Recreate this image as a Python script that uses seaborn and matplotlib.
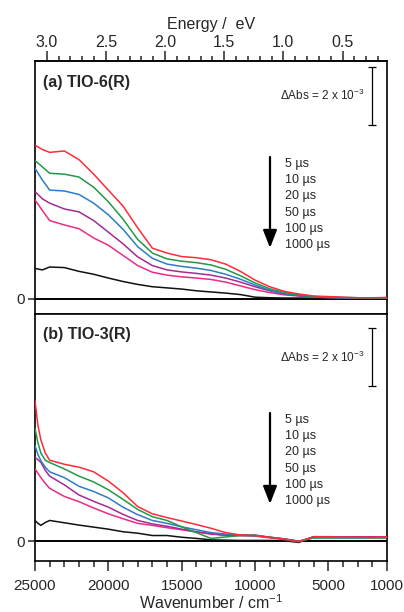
import numpy as np
import pandas as pd
import matplotlib
matplotlib.use("Agg")
import matplotlib.pyplot as plt
from matplotlib.ticker import MultipleLocator, FixedLocator
import seaborn as sns

sns.set_theme(style="ticks")
plt.rcParams["font.family"] = ["Liberation Sans", "DejaVu Sans"]
plt.rcParams["mathtext.fontset"] = "custom"
plt.rcParams["mathtext.rm"] = "Liberation Sans"

# Transient absorption spectra, values in units of 1e-3 ΔAbs
delays = ["5 µs", "10 µs", "20 µs", "50 µs", "100 µs", "1000 µs"]
colors = ["#ff2a3a", "#1f9a45", "#2c7cc6", "#a42a96", "#ea2c82", "#111111"]

wn_a = [25000, 24500, 24000, 23000, 22000, 21000, 20000, 19000, 18000, 17000,
        16000, 15000, 14000, 13000, 12000, 11000, 10000, 9000, 8000, 7000,
        6000, 5000, 4000, 3000, 2000, 1000]
tio6_5us = [5.30, 5.15, 5.05, 5.10, 4.80, 4.30, 3.75, 3.20, 2.45, 1.75, 1.58, 1.46, 1.42,
            1.35, 1.20, 0.95, 0.65, 0.42, 0.26, 0.17, 0.10, 0.08, 0.06, 0.04, 0.04, 0.05]
tio6_10us = [4.77, 4.55, 4.33, 4.30, 4.20, 3.85, 3.35, 2.75, 2.05, 1.58, 1.38, 1.30, 1.25,
             1.17, 1.02, 0.80, 0.55, 0.35, 0.22, 0.14, 0.08, 0.06, 0.05, 0.04, 0.03, 0.04]
tio6_20us = [4.50, 4.10, 3.75, 3.72, 3.60, 3.30, 2.90, 2.40, 1.80, 1.40, 1.20, 1.12, 1.06,
             0.98, 0.85, 0.68, 0.48, 0.30, 0.18, 0.12, 0.07, 0.05, 0.04, 0.03, 0.03, 0.04]
tio6_50us = [3.70, 3.45, 3.30, 3.10, 3.00, 2.70, 2.30, 1.90, 1.45, 1.15, 1.00, 0.93, 0.88,
             0.82, 0.72, 0.58, 0.42, 0.28, 0.17, 0.11, 0.07, 0.05, 0.04, 0.03, 0.03, 0.04]
tio6_100us = [3.41, 3.05, 2.70, 2.55, 2.42, 2.10, 1.85, 1.50, 1.15, 0.92, 0.82, 0.76, 0.72,
              0.67, 0.58, 0.45, 0.32, 0.22, 0.14, 0.10, 0.06, 0.05, 0.04, 0.03, 0.03, 0.04]
tio6_1000us = [1.05, 1.00, 1.10, 1.08, 0.95, 0.85, 0.72, 0.60, 0.50, 0.42, 0.38, 0.34, 0.28,
               0.24, 0.20, 0.15, 0.06, 0.04, 0.03, 0.03, 0.03, 0.03, 0.03, 0.03, 0.03, 0.03]

wn_b = [25000, 24800, 24600, 24300, 24000, 23000, 22000, 21000, 20000, 19000, 18000,
        17000, 16000, 15000, 14000, 13000, 12000, 11000, 10000, 9000, 8000, 7000,
        6000, 5000, 4000, 3000, 2000, 1000]
tio3_5us = [4.86, 4.00, 3.50, 3.05, 2.80, 2.66, 2.56, 2.40, 2.08, 1.68, 1.20, 0.95, 0.82,
            0.70, 0.58, 0.45, 0.30, 0.22, 0.20, 0.14, 0.08, 0.00, 0.15, 0.15, 0.14, 0.14, 0.13, 0.15]
tio3_10us = [3.90, 3.40, 3.05, 2.80, 2.72, 2.50, 2.25, 2.05, 1.78, 1.45, 1.10, 0.85, 0.72,
             0.50, 0.30, 0.10, 0.15, 0.20, 0.20, 0.14, 0.08, 0.00, 0.12, 0.12, 0.12, 0.12, 0.12, 0.12]
tio3_20us = [3.30, 3.00, 2.78, 2.56, 2.40, 2.20, 1.90, 1.72, 1.50, 1.18, 0.92, 0.72, 0.62,
             0.50, 0.40, 0.30, 0.25, 0.22, 0.22, 0.14, 0.08, 0.00, 0.12, 0.12, 0.12, 0.12, 0.12, 0.12]
tio3_50us = [2.90, 2.82, 2.73, 2.45, 2.25, 1.95, 1.60, 1.38, 1.18, 0.93, 0.72, 0.60, 0.52,
             0.42, 0.33, 0.26, 0.22, 0.20, 0.20, 0.14, 0.08, 0.00, 0.14, 0.14, 0.14, 0.14, 0.14, 0.14]
tio3_100us = [2.50, 2.35, 2.20, 2.00, 1.83, 1.55, 1.37, 1.15, 0.95, 0.78, 0.62, 0.55, 0.47,
              0.40, 0.32, 0.25, 0.20, 0.20, 0.18, 0.12, 0.06, -0.02, 0.16, 0.16, 0.15, 0.15, 0.15, 0.16]
tio3_1000us = [0.72, 0.62, 0.55, 0.65, 0.72, 0.64, 0.56, 0.49, 0.42, 0.33, 0.28, 0.20, 0.20,
               0.14, 0.10, 0.05, 0.04, 0.03, 0.03, 0.03, 0.02, -0.04, 0.16, 0.15, 0.15, 0.15, 0.15, 0.15]


def long_frame(wn, series):
    frames = []
    for name, vals in zip(delays, series):
        frames.append(pd.DataFrame({"wn": wn, "dA": vals, "delay": name}))
    return pd.concat(frames, ignore_index=True)


df_a = long_frame(wn_a, [tio6_5us, tio6_10us, tio6_20us, tio6_50us, tio6_100us, tio6_1000us])
df_b = long_frame(wn_b, [tio3_5us, tio3_10us, tio3_20us, tio3_50us, tio3_100us, tio3_1000us])
palette = dict(zip(delays, colors))

W, H = 404, 612
fig = plt.figure(figsize=(W / 100, H / 100), dpi=100)
left, right = 35 / W, 387 / W
ax_a = fig.add_axes([left, 1 - 314 / H, right - left, (314 - 61) / H])
ax_b = fig.add_axes([left, 1 - 561 / H, right - left, (561 - 314) / H])

panels = [
    (ax_a, df_a, "(a) TIO-6(R)", (-0.52, 8.2), (6.0, 8.0), 61, 253, 164),
    (ax_b, df_b, "(b) TIO-3(R)", (-0.68, 7.85), (5.35, 7.35), 314, 247, 420),
]

for ax, df, title, ylim, bar, ax_top, ax_h, key_top in panels:
    ax.axhline(0, color="black", lw=1.4, zorder=1)
    sns.lineplot(data=df, x="wn", y="dA", hue="delay", palette=palette,
                 hue_order=delays[::-1], legend=False, ax=ax, lw=1.1,
                 sort=False, zorder=3)
    ax.set_xlim(25000, 1000)
    ax.set_ylim(*ylim)
    for s in ax.spines.values():
        s.set_linewidth(1.2)
        s.set_color("black")
    ax.set_yticks([0])
    ax.set_yticklabels(["0"], fontsize=11)
    ax.tick_params(axis="y", length=5, width=1.1, pad=2, direction="out")
    ax.set_xlabel("")
    ax.set_ylabel("")

    ax.text(0.023, 0.915, title, transform=ax.transAxes, fontsize=11.5,
            fontweight="bold", ha="left", va="center")

    # ΔAbs scale bar
    ax.errorbar([2000], [(bar[0] + bar[1]) / 2], yerr=[(bar[1] - bar[0]) / 2],
                color="black", lw=0.9, capsize=3, capthick=0.9)
    ax.text(1 - 22 / 352, (bar[0] + bar[1]) / 2, r"$\Delta$Abs = 2 x 10$^{-3}$",
            transform=ax.get_yaxis_transform(), fontsize=8.5, ha="right", va="center")

    # delay list with a downward arrow
    x_arrow = (270 - 35) / 352
    x_text = (285 - 35) / 352
    for i, d in enumerate(delays):
        y = (ax_top + ax_h - (key_top + 16.2 * i)) / ax_h
        ax.text(x_text, y, d, transform=ax.transAxes, fontsize=9,
                ha="left", va="center")
    y0 = (ax_top + ax_h - (key_top - 7)) / ax_h
    y1 = (ax_top + ax_h - (key_top + 16.2 * 5 + 3)) / ax_h
    ax.annotate("", xy=(x_arrow, y1), xytext=(x_arrow, y0),
                xycoords="axes fraction", textcoords="axes fraction",
                arrowprops=dict(arrowstyle="-|>,head_width=0.35,head_length=0.9",
                                color="black", lw=1.6, shrinkA=0, shrinkB=0))

ax_a.tick_params(axis="x", which="both", bottom=False, top=False, labelbottom=False)
ax_b.tick_params(axis="x", which="both", top=False)
ax_b.set_xticks([25000, 20000, 15000, 10000, 5000, 1000])
ax_b.set_xticklabels(["25000", "20000", "15000", "10000", "5000", "1000"])
ax_b.xaxis.set_minor_locator(FixedLocator(np.arange(24000, 1000, -1000)))
ax_b.tick_params(axis="x", which="major", length=7, width=1.1, labelsize=11, pad=6)
ax_b.tick_params(axis="x", which="minor", length=4.5, width=1.1, bottom=True)
ax_b.set_xlabel("Wavenumber / cm$^{-1}$", fontsize=11.5, labelpad=0.5)

# photon energy scale on top
ev = 8065.54
sec = ax_a.secondary_xaxis("top", functions=(lambda w: w / ev, lambda e: e * ev))
sec.set_xticks([3.0, 2.5, 2.0, 1.5, 1.0, 0.5])
sec.set_xticklabels(["3.0", "2.5", "2.0", "1.5", "1.0", "0.5"])
sec.xaxis.set_minor_locator(MultipleLocator(0.1))
sec.tick_params(axis="x", which="major", length=7.5, width=1.1, labelsize=11.5, pad=0.5)
sec.tick_params(axis="x", which="minor", length=3.5, width=1.1)
sec.spines["top"].set_linewidth(1.2)
sec.set_xlabel("Energy /  eV", fontsize=11.5, labelpad=4)

fig.savefig("out.png", dpi=100, facecolor="white")
